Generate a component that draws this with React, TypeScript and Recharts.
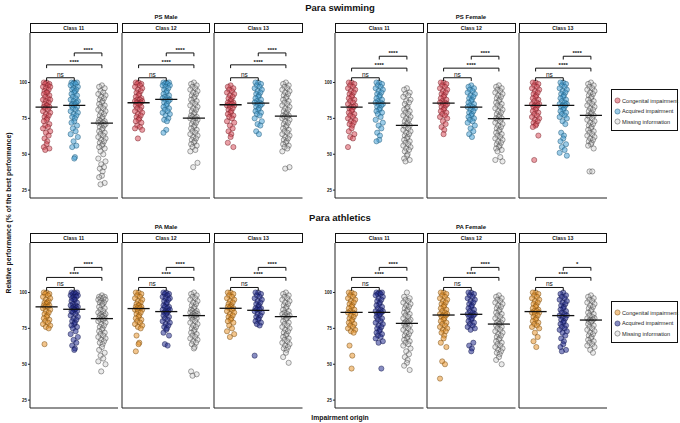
import React from "react";
import { ScatterChart, Scatter, XAxis, YAxis } from "recharts";

const GROUPS = ["Congenital impairment", "Acquired impairment", "Missing information"];
const CLASSES = ["Class 11", "Class 12", "Class 13"];
const Y_TICKS = [25, 50, 75, 100];

const SWIM_COLORS = ["#d9505c", "#4aa3d6", "#c4c4c4"];
const SWIM_STROKES = ["#6e1820", "#17506f", "#3a3a3a"];
const ATH_COLORS = ["#e8952f", "#26308f", "#c4c4c4"];
const ATH_STROKES = ["#6e420a", "#0d1245", "#3a3a3a"];

// PS Male, values per class: [congenital, acquired, missing]
const psMale11 = [
  [100, 100, 99, 99, 98, 97, 97, 96, 95, 94, 93, 93, 92, 91, 90, 89, 88, 88, 87, 86, 85, 84, 84, 83, 83, 82, 81, 80, 79, 78, 77, 76, 75, 74, 73, 71, 70, 69, 68, 66, 65, 63, 61, 59, 57, 55, 54, 53],
  [100, 100, 100, 99, 99, 98, 97, 96, 95, 95, 94, 93, 92, 91, 90, 89, 88, 87, 87, 86, 85, 85, 84, 84, 83, 82, 81, 80, 79, 78, 77, 76, 75, 73, 72, 70, 68, 66, 64, 62, 59, 56, 55, 48, 47],
  [98, 97, 96, 94, 93, 92, 91, 90, 89, 88, 87, 86, 85, 84, 83, 82, 81, 80, 79, 78, 77, 76, 75, 74, 73, 73, 72, 72, 71, 71, 70, 69, 68, 67, 66, 65, 64, 63, 62, 61, 60, 59, 58, 57, 56, 55, 54, 52, 50, 47, 45, 43, 41, 40, 38, 35, 34, 30, 29],
];
const psMale12 = [
  [100, 100, 99, 99, 98, 97, 96, 95, 94, 93, 92, 91, 90, 89, 88, 88, 87, 87, 86, 86, 86, 85, 85, 84, 83, 82, 81, 80, 79, 78, 77, 76, 75, 74, 73, 72, 70, 69, 68, 67, 61],
  [100, 100, 100, 99, 99, 98, 98, 97, 96, 95, 94, 93, 92, 91, 90, 89, 89, 88, 88, 87, 86, 85, 84, 83, 82, 81, 80, 79, 78, 77, 75, 74, 73, 67, 65],
  [100, 99, 98, 97, 96, 95, 94, 93, 92, 91, 90, 89, 88, 87, 86, 85, 84, 83, 82, 81, 80, 79, 78, 77, 76, 76, 75, 75, 74, 73, 72, 71, 70, 69, 68, 67, 66, 65, 64, 63, 62, 61, 60, 59, 58, 57, 56, 55, 53, 52, 44, 41],
];
const psMale13 = [
  [98, 97, 96, 95, 94, 93, 92, 91, 90, 89, 88, 87, 86, 86, 85, 85, 84, 84, 83, 82, 81, 80, 79, 78, 77, 76, 75, 73, 72, 70, 68, 66, 64, 62, 58, 55],
  [100, 100, 99, 98, 97, 96, 95, 94, 93, 92, 91, 90, 89, 88, 87, 86, 86, 85, 85, 84, 83, 82, 81, 80, 79, 78, 77, 75, 73, 71, 70, 66, 64],
  [100, 99, 98, 97, 96, 95, 94, 93, 92, 91, 90, 89, 88, 87, 86, 85, 84, 83, 82, 81, 80, 79, 78, 77, 77, 76, 76, 75, 74, 73, 72, 71, 70, 69, 68, 67, 66, 65, 64, 63, 62, 61, 60, 59, 58, 57, 56, 55, 54, 52, 41, 40],
];

// PS Female
const psFemale11 = [
  [100, 100, 99, 98, 97, 96, 95, 94, 93, 92, 91, 90, 89, 88, 87, 86, 85, 84, 83, 83, 82, 81, 80, 79, 78, 77, 76, 75, 74, 73, 72, 71, 70, 68, 66, 64, 62, 61, 55],
  [100, 100, 99, 98, 97, 96, 95, 94, 93, 92, 91, 90, 89, 88, 87, 86, 86, 85, 85, 84, 83, 82, 81, 80, 79, 78, 76, 74, 72, 70, 68, 65, 63, 60, 59],
  [96, 95, 93, 92, 91, 90, 88, 87, 86, 85, 83, 82, 81, 80, 79, 78, 77, 76, 75, 74, 73, 72, 71, 70, 70, 69, 68, 67, 66, 65, 64, 63, 62, 61, 60, 59, 58, 57, 56, 55, 54, 53, 52, 50, 49, 47, 46, 45],
];
const psFemale12 = [
  [100, 100, 99, 98, 97, 96, 95, 94, 93, 92, 91, 90, 89, 88, 87, 86, 86, 85, 85, 84, 83, 82, 81, 80, 79, 78, 77, 76, 75, 73, 71, 69, 67, 64],
  [98, 97, 96, 95, 94, 93, 92, 91, 90, 89, 88, 87, 86, 85, 84, 83, 83, 82, 81, 80, 79, 78, 77, 76, 75, 74, 73, 72, 70, 68, 66, 64, 62],
  [98, 97, 96, 95, 94, 93, 92, 91, 90, 89, 88, 87, 86, 85, 84, 83, 82, 81, 80, 79, 78, 77, 76, 75, 75, 74, 73, 72, 71, 70, 69, 68, 67, 66, 65, 64, 63, 62, 61, 60, 59, 58, 57, 56, 55, 54, 53, 52, 48, 46, 45],
];
const psFemale13 = [
  [100, 100, 99, 98, 97, 96, 95, 94, 93, 92, 91, 90, 89, 88, 87, 86, 85, 85, 84, 84, 83, 82, 81, 80, 79, 78, 77, 76, 75, 74, 73, 72, 71, 70, 69, 63, 46],
  [100, 100, 99, 98, 97, 96, 95, 94, 93, 92, 91, 90, 89, 88, 87, 86, 85, 85, 84, 84, 83, 82, 81, 80, 79, 78, 77, 76, 75, 73, 71, 65, 63, 61, 59, 57, 55, 53, 51, 49],
  [100, 99, 98, 97, 96, 95, 94, 93, 92, 91, 90, 89, 88, 87, 86, 85, 84, 83, 82, 81, 80, 79, 78, 77, 77, 76, 75, 74, 73, 72, 71, 70, 69, 68, 67, 66, 65, 64, 63, 62, 61, 60, 59, 58, 57, 56, 54, 38, 38],
];

// PA Male
const paMale11 = [
  [100, 100, 99, 99, 98, 97, 96, 95, 94, 93, 93, 92, 91, 91, 90, 90, 89, 88, 87, 86, 85, 84, 83, 82, 81, 80, 79, 78, 77, 76, 75, 64],
  [100, 100, 100, 99, 99, 98, 98, 97, 97, 96, 95, 95, 94, 93, 92, 91, 91, 90, 90, 89, 89, 88, 88, 87, 87, 86, 85, 84, 83, 82, 81, 80, 79, 78, 77, 76, 75, 73, 71, 69, 67, 65, 63, 61, 60],
  [98, 97, 97, 96, 96, 95, 95, 94, 93, 93, 92, 91, 90, 89, 88, 87, 86, 85, 85, 84, 84, 83, 83, 82, 82, 81, 81, 80, 79, 78, 77, 76, 75, 74, 73, 72, 71, 70, 69, 68, 67, 66, 65, 64, 62, 60, 58, 56, 54, 52, 50, 45],
];
const paMale12 = [
  [100, 100, 99, 98, 97, 96, 95, 94, 93, 92, 91, 91, 90, 90, 89, 89, 88, 88, 87, 86, 85, 84, 83, 82, 81, 80, 79, 78, 77, 76, 75, 70, 65, 64, 59],
  [100, 100, 99, 99, 98, 97, 96, 96, 95, 94, 93, 92, 91, 90, 90, 89, 88, 88, 87, 87, 86, 86, 85, 84, 83, 82, 81, 80, 79, 78, 77, 76, 75, 74, 72, 70, 64, 63],
  [100, 99, 98, 97, 96, 95, 94, 93, 92, 91, 90, 89, 88, 87, 87, 86, 86, 85, 85, 84, 84, 84, 83, 83, 82, 81, 80, 79, 78, 77, 76, 75, 74, 73, 72, 71, 70, 69, 68, 67, 66, 65, 64, 62, 61, 45, 43, 42],
];
const paMale13 = [
  [100, 100, 99, 98, 97, 96, 95, 94, 93, 92, 91, 90, 90, 89, 89, 88, 87, 86, 85, 84, 83, 82, 81, 80, 79, 77, 75, 73, 71, 69],
  [100, 100, 99, 98, 97, 96, 95, 94, 93, 92, 91, 90, 89, 89, 88, 88, 87, 86, 85, 84, 83, 82, 81, 80, 79, 78, 77, 56],
  [100, 99, 98, 97, 96, 95, 94, 93, 92, 91, 90, 89, 88, 87, 86, 85, 85, 84, 84, 83, 83, 82, 81, 80, 79, 78, 77, 76, 75, 74, 73, 72, 71, 70, 69, 68, 67, 66, 65, 64, 63, 62, 61, 60, 58, 55, 51],
];

// PA Female
const paFemale11 = [
  [100, 100, 99, 98, 97, 96, 95, 94, 93, 92, 91, 90, 89, 88, 87, 86, 86, 85, 84, 83, 82, 81, 80, 79, 78, 77, 76, 75, 74, 73, 72, 63, 56, 47],
  [100, 100, 100, 99, 99, 98, 97, 96, 95, 94, 93, 92, 91, 90, 89, 88, 87, 87, 86, 86, 85, 85, 84, 83, 82, 81, 80, 79, 78, 77, 76, 75, 74, 73, 72, 71, 70, 69, 68, 66, 65, 47],
  [100, 97, 96, 95, 94, 93, 92, 91, 90, 89, 88, 87, 86, 85, 84, 83, 82, 81, 80, 80, 79, 79, 78, 78, 77, 76, 75, 74, 73, 72, 71, 70, 69, 68, 67, 66, 65, 64, 63, 61, 59, 57, 55, 53, 51, 49, 46],
];
const paFemale12 = [
  [100, 100, 99, 98, 97, 96, 95, 94, 93, 92, 91, 90, 89, 88, 87, 86, 85, 85, 84, 84, 83, 82, 81, 80, 79, 78, 77, 76, 75, 74, 73, 72, 70, 68, 65, 62, 52, 50, 40],
  [100, 100, 99, 98, 97, 96, 95, 94, 93, 92, 91, 90, 89, 88, 87, 86, 85, 85, 84, 84, 83, 82, 81, 80, 79, 78, 77, 76, 75, 74, 65, 63, 61, 59],
  [98, 97, 96, 95, 94, 93, 92, 91, 90, 89, 88, 87, 86, 85, 84, 83, 82, 81, 80, 79, 79, 78, 78, 77, 76, 75, 74, 73, 72, 71, 70, 69, 68, 67, 66, 65, 64, 63, 62, 61, 60, 59, 58, 57, 55, 53, 50],
];
const paFemale13 = [
  [100, 100, 99, 98, 97, 96, 95, 94, 93, 92, 91, 90, 89, 88, 87, 87, 86, 86, 85, 84, 83, 82, 81, 80, 79, 78, 77, 76, 75, 72, 69, 66, 62],
  [100, 99, 98, 97, 96, 95, 94, 93, 92, 91, 90, 89, 88, 87, 86, 85, 84, 84, 83, 82, 81, 80, 79, 78, 77, 76, 75, 74, 73, 72, 70, 68, 66, 64, 62, 60, 59],
  [98, 97, 96, 95, 94, 93, 92, 91, 90, 89, 88, 87, 86, 85, 84, 83, 82, 82, 81, 81, 80, 80, 79, 78, 77, 76, 75, 74, 73, 72, 71, 70, 69, 68, 67, 66, 65, 64, 63, 62, 60, 58],
];

// medians
const psMaleMedians = [[82.9, 84, 71.7], [85.9, 88.2, 75.2], [84.5, 85.6, 76.6]];
const psFemaleMedians = [[82.9, 85.6, 70.1], [85.6, 82.9, 74.8], [84, 84, 77.1]];
const paMaleMedians = [[90, 88.3, 81.8], [88.8, 86.7, 83.9], [89, 87.6, 83.2]];
const paFemaleMedians = [[86.2, 86.2, 78.5], [84.3, 84.8, 78], [86.7, 83.9, 80.8]];

// significance labels: [1 vs 2, 1 vs 3, 2 vs 3]
const psMaleSig = [["ns", "****", "****"], ["ns", "****", "****"], ["ns", "****", "****"]];
const psFemaleSig = [["ns", "****", "****"], ["ns", "****", "****"], ["ns", "****", "****"]];
const paMaleSig = [["ns", "****", "****"], ["ns", "****", "****"], ["ns", "****", "****"]];
const paFemaleSig = [["ns", "****", "****"], ["ns", "****", "****"], ["ns", "****", "*"]];

// bracket heights (y units)
const psMaleBrackets = [103.3, 112.3, 120.6];
const psFemaleBrackets = [103.3, 110, 118.3];
const paBrackets = [103.5, 110.5, 117.5];

const FONT = 'Arial, "Liberation Sans", sans-serif';
const AXIS_W = 20;
const PANEL_W = 88.5;
const PLOT_H = 165;
const X_H = 5;
const JITTER = [0, -0.1, 0.1, -0.05, 0.05, -0.13, 0.13, -0.025, 0.075, -0.075, 0.025];
const PAIRS = [[1, 2], [1, 3], [2, 3]];
const DROP = 2.3;

const noShape = () => <g />;

function Dot({ cx, cy, fill, stroke, light }: any) {
  return (
    <circle
      cx={cx}
      cy={cy}
      r={2.6}
      fill={fill}
      fillOpacity={light ? 0.35 : 0.55}
      stroke={stroke}
      strokeOpacity={0.75}
      strokeWidth={0.6}
    />
  );
}

function Panel({ left, top, title, values, medians, sig, brackets, colors, strokes, showTicks }: any) {
  return (
    <div style={{ position: "absolute", left: left - AXIS_W, top: top - 10 }}>
      <div
        style={{
          position: "absolute",
          left: AXIS_W,
          top: 0,
          width: PANEL_W,
          height: 10,
          boxSizing: "border-box",
          border: "1px solid #111",
          fontSize: 5.2,
          fontWeight: 700,
          lineHeight: "8px",
          textAlign: "center",
          color: "#111",
        }}
      >
        {title}
      </div>
      <div style={{ position: "absolute", left: 0, top: 10 }}>
        <ScatterChart width={AXIS_W + PANEL_W} height={PLOT_H + X_H} margin={{ top: 0, right: 0, bottom: 0, left: 0 }}>
          <XAxis
            type="number"
            dataKey="x"
            domain={[0.4, 3.6]}
            ticks={[1, 2, 3]}
            tick={false}
            tickLine={{ stroke: "#222" }}
            tickSize={2.5}
            height={X_H}
            axisLine={{ stroke: "#222", strokeWidth: 1 }}
            allowDataOverflow
          />
          <YAxis
            type="number"
            dataKey="y"
            domain={[19.5, 134.5]}
            ticks={Y_TICKS}
            width={AXIS_W}
            tick={showTicks ? { fontSize: 4.5, fontWeight: 700, fill: "#222", fontFamily: FONT } : false}
            tickLine={showTicks ? { stroke: "#222" } : false}
            tickSize={2}
            tickMargin={1}
            axisLine={{ stroke: "#222", strokeWidth: 1 }}
            allowDataOverflow
          />
          {values.map((vals: number[], g: number) => (
            <Scatter
              key={"p" + g}
              data={vals.map((y, i) => ({ x: g + 1 + JITTER[i % JITTER.length], y }))}
              isAnimationActive={false}
              shape={(p: any) => <Dot cx={p.cx} cy={p.cy} fill={colors[g]} stroke={strokes[g]} light={g === 2} />}
            />
          ))}
          {medians.map((m: number, g: number) => (
            <Scatter
              key={"m" + g}
              data={[{ x: g + 0.6, y: m }, { x: g + 1.4, y: m }]}
              line={{ stroke: "#111", strokeWidth: 1.3 }}
              shape={noShape}
              isAnimationActive={false}
            />
          ))}
          {PAIRS.map(([a, b], k) => (
            <Scatter
              key={"b" + k}
              data={[
                { x: a, y: brackets[k] - DROP },
                { x: a, y: brackets[k] },
                { x: b, y: brackets[k] },
                { x: b, y: brackets[k] - DROP },
              ]}
              line={{ stroke: "#111", strokeWidth: 1 }}
              shape={noShape}
              isAnimationActive={false}
            />
          ))}
          <Scatter
            data={PAIRS.map(([a, b], k) => ({ x: (a + b) / 2, y: brackets[k], label: sig[k] }))}
            isAnimationActive={false}
            shape={(p: any) => (
              <text
                x={p.cx}
                y={p.cy - 1}
                textAnchor="middle"
                fontSize={p.payload.label === "ns" ? 6.5 : 6}
                fontWeight={p.payload.label === "ns" ? 400 : 700}
                fontFamily={FONT}
                fill="#111"
              >
                {p.payload.label}
              </text>
            )}
          />
        </ScatterChart>
      </div>
    </div>
  );
}

function LegendBox({ top, colors, strokes }: any) {
  return (
    <div
      style={{
        position: "absolute",
        left: 611,
        top,
        width: 67,
        height: 42,
        boxSizing: "border-box",
        border: "1.5px solid #111",
        padding: "5.5px 0 0 2px",
      }}
    >
      {GROUPS.map((g, i) => (
        <div
          key={g}
          style={{ display: "flex", alignItems: "center", height: 10.5, fontSize: 5.6, color: "#222", whiteSpace: "nowrap" }}
        >
          <svg width={7} height={7} style={{ marginRight: 1, flex: "none" }}>
            <Dot cx={3.5} cy={3.5} fill={colors[i]} stroke={strokes[i]} light={i === 2} />
          </svg>
          {g}
        </div>
      ))}
    </div>
  );
}

const title = (text: string, cx: number, cy: number, size: number) => (
  <div
    style={{
      position: "absolute",
      left: cx,
      top: cy,
      transform: "translate(-50%, -50%)",
      whiteSpace: "nowrap",
      fontSize: size,
      fontWeight: 700,
      color: "#111",
    }}
  >
    {text}
  </div>
);

const LEFT_X = [29.5, 121.8, 214];
const RIGHT_X = [335, 427, 518.5];

export default function App() {
  const rows = [
    { top: 33, x: LEFT_X, vals: [psMale11, psMale12, psMale13], med: psMaleMedians, sig: psMaleSig, br: psMaleBrackets, c: SWIM_COLORS, s: SWIM_STROKES },
    { top: 33, x: RIGHT_X, vals: [psFemale11, psFemale12, psFemale13], med: psFemaleMedians, sig: psFemaleSig, br: psFemaleBrackets, c: SWIM_COLORS, s: SWIM_STROKES },
    { top: 243, x: LEFT_X, vals: [paMale11, paMale12, paMale13], med: paMaleMedians, sig: paMaleSig, br: paBrackets, c: ATH_COLORS, s: ATH_STROKES },
    { top: 243, x: RIGHT_X, vals: [paFemale11, paFemale12, paFemale13], med: paFemaleMedians, sig: paFemaleSig, br: paBrackets, c: ATH_COLORS, s: ATH_STROKES },
  ];
  return (
    <div style={{ position: "absolute", left: 0, top: 0, width: 680, height: 423, background: "#fff", fontFamily: FONT, overflow: "hidden" }}>
      {title("Para swimming", 340, 6.5, 9.5)}
      {title("PS Male", 166, 16.5, 6)}
      {title("PS Female", 471, 16.5, 6)}
      {title("Para athletics", 340, 216.5, 9.5)}
      {title("PA Male", 166, 227, 6)}
      {title("PA Female", 471, 227, 6)}
      {title("Impairment origin", 340, 417, 6.8)}
      <div
        style={{
          position: "absolute",
          left: 8,
          top: 213,
          transform: "translate(-50%, -50%) rotate(-90deg)",
          whiteSpace: "nowrap",
          fontSize: 6.8,
          fontWeight: 700,
          color: "#111",
        }}
      >
        Relative performance (% of the best performance)
      </div>
      {rows.map((r, ri) =>
        CLASSES.map((cls, ci) => (
          <Panel
            key={ri + "-" + ci}
            left={r.x[ci]}
            top={r.top}
            title={cls}
            values={r.vals[ci]}
            medians={r.med[ci]}
            sig={r.sig[ci]}
            brackets={r.br}
            colors={r.c}
            strokes={r.s}
            showTicks={ci === 0}
          />
        ))
      )}
      <LegendBox top={89} colors={SWIM_COLORS} strokes={SWIM_STROKES} />
      <LegendBox top={301} colors={ATH_COLORS} strokes={ATH_STROKES} />
    </div>
  );
}
